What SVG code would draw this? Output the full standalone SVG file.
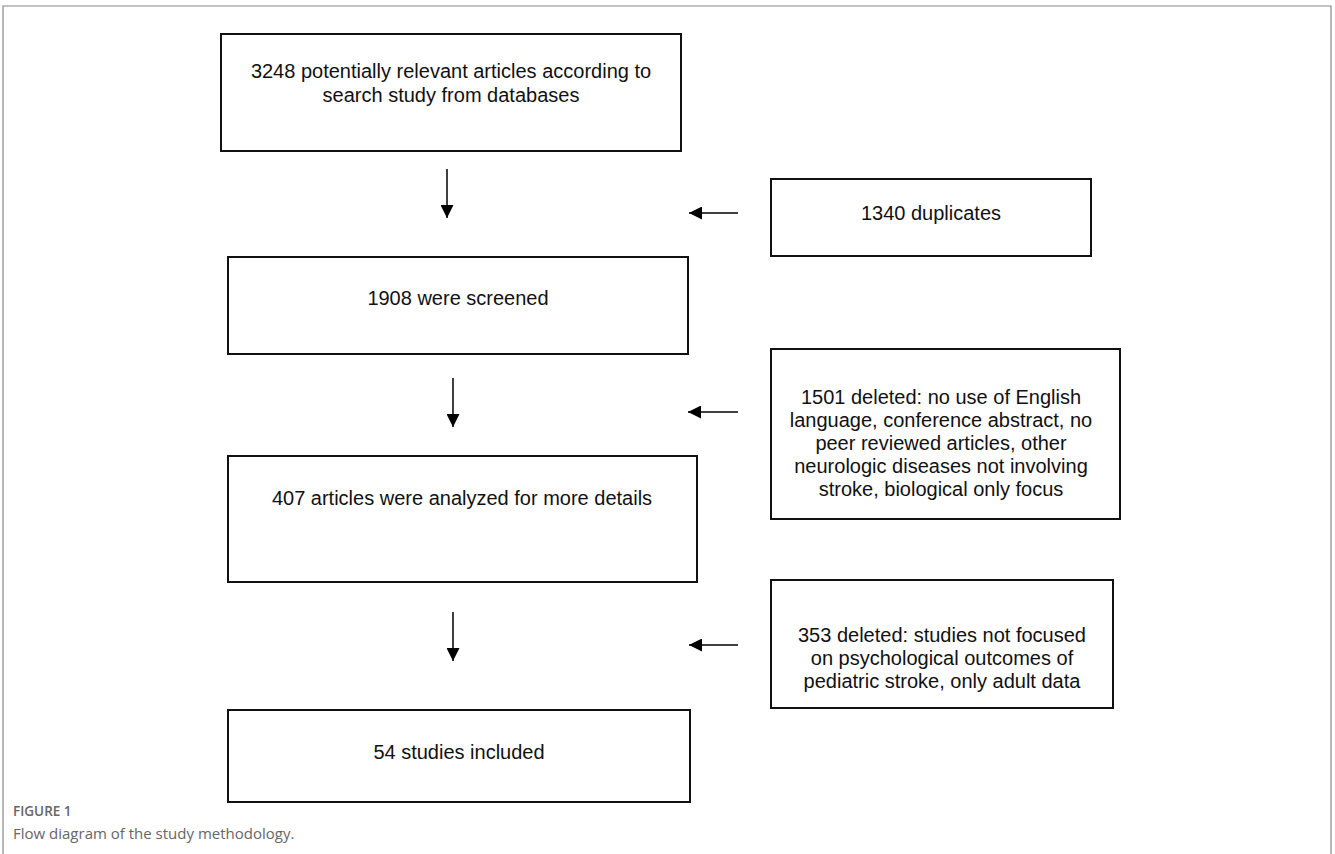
<svg xmlns="http://www.w3.org/2000/svg" width="1335" height="854" viewBox="0 0 1335 854">
<defs>
<marker id="ah" viewBox="0 0 10 10" refX="10" refY="5" markerWidth="13" markerHeight="13" markerUnits="userSpaceOnUse" orient="auto">
<path d="M0,0 L10,5 L0,10 Z" fill="#000"/>
</marker>
<style>
.box{fill:#fff;stroke:#111;stroke-width:2}
.t{font-family:"Liberation Sans",Arial,sans-serif;font-size:20px;fill:#111;text-anchor:middle}
.c{stroke:#000;stroke-width:1.5;fill:none;marker-end:url(#ah)}
.frame{fill:none;stroke:#888;stroke-width:1.2}
</style>
</defs>
<rect width="1335" height="854" fill="#fff"/>
<path class="frame" d="M3,854 V6 H1331 V854"/>
<g id="n1"><rect class="box" x="221" y="34" width="460" height="117"/>
<text class="t" x="451" y="78">3248 potentially relevant articles according to</text>
<text class="t" x="451" y="102">search study from databases</text></g>
<g id="n2"><rect class="box" x="771" y="179" width="320" height="77"/>
<text class="t" x="931" y="220">1340 duplicates</text></g>
<g id="n3"><rect class="box" x="228" y="257" width="460" height="97"/>
<text class="t" x="458" y="305">1908 were screened</text></g>
<g id="n4"><rect class="box" x="771" y="349" width="349" height="170"/>
<text class="t" x="941" y="404">1501 deleted: no use of English</text>
<text class="t" x="941" y="427">language, conference abstract, no</text>
<text class="t" x="941" y="450">peer reviewed articles, other</text>
<text class="t" x="941" y="473">neurologic diseases not involving</text>
<text class="t" x="941" y="496">stroke, biological only focus</text></g>
<g id="n5"><rect class="box" x="228" y="456" width="469" height="126"/>
<text class="t" x="462" y="505">407 articles were analyzed for more details</text></g>
<g id="n6"><rect class="box" x="771" y="580" width="342" height="128"/>
<text class="t" x="942" y="642">353 deleted: studies not focused</text>
<text class="t" x="942" y="665">on psychological outcomes of</text>
<text class="t" x="942" y="688">pediatric stroke, only adult data</text></g>
<g id="n7"><rect class="box" x="228" y="710" width="462" height="92"/>
<text class="t" x="459" y="759">54 studies included</text></g>
<g id="connectors">
<line class="c" x1="447" y1="169" x2="447" y2="218"/>
<line class="c" x1="738" y1="213" x2="689" y2="213"/>
<line class="c" x1="453" y1="378" x2="453" y2="427"/>
<line class="c" x1="738" y1="412" x2="688" y2="412"/>
<line class="c" x1="453" y1="612" x2="453" y2="661"/>
<line class="c" x1="738" y1="645" x2="689" y2="645"/>
</g>
<text x="13" y="816" font-family="'Open Sans',sans-serif" font-size="13.5" font-weight="600" fill="#666">FIGURE 1</text>
<text x="13" y="839" font-family="'Open Sans',sans-serif" font-size="15" fill="#666">Flow diagram of the study methodology.</text>
</svg>
